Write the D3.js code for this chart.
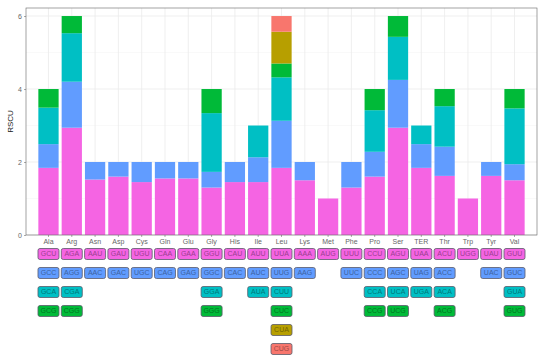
<!DOCTYPE html>
<html>
  <head>
    <meta charset="utf-8">
    <title>RSCU</title>
    <style media="screen">
      body { margin: 0; background: white; }
      text { font-family: "Liberation Sans", Arial, sans-serif; }
      .axis text { fill: #666; font-size: 7px; }
      .axis line { stroke: #555; stroke-width: 0.5; }
      .axis path { display: none; }
      .codon text { font-size: 7px; text-anchor: middle; }
    </style>
    <script src="https://d3js.org/d3.v7.min.js"></script>
  </head>
  <body>
    <script type="text/javascript">

      const aminoAcids = ["Ala", "Arg", "Asn", "Asp", "Cys", "Gln", "Glu", "Gly", "His", "Ile", "Leu",
        "Lys", "Met", "Phe", "Pro", "Ser", "TER", "Thr", "Trp", "Tyr", "Val"];

      const codons = [
        ["GCU", "GCC", "GCA", "GCG"],
        ["AGA", "AGG", "CGA", "CGG"],
        ["AAU", "AAC"],
        ["GAU", "GAC"],
        ["UGU", "UGC"],
        ["CAA", "CAG"],
        ["GAA", "GAG"],
        ["GGU", "GGC", "GGA", "GGG"],
        ["CAU", "CAC"],
        ["AUU", "AUC", "AUA"],
        ["UUA", "UUG", "CUU", "CUC", "CUA", "CUG"],
        ["AAA", "AAG"],
        ["AUG"],
        ["UUU", "UUC"],
        ["CCU", "CCC", "CCA", "CCG"],
        ["AGU", "AGC", "UCA", "UCG"],
        ["UAA", "UAG", "UGA"],
        ["ACU", "ACC", "ACA", "ACG"],
        ["UGG"],
        ["UAU", "UAC"],
        ["GUU", "GUC", "GUA", "GUG"]
      ];

      const rscu = [
        [1.84, 0.65, 1.00, 0.51],
        [2.94, 1.26, 1.33, 0.47],
        [1.52, 0.48],
        [1.60, 0.40],
        [1.45, 0.55],
        [1.55, 0.45],
        [1.55, 0.45],
        [1.30, 0.43, 1.61, 0.66],
        [1.45, 0.55],
        [1.45, 0.68, 0.87],
        [1.84, 1.29, 1.19, 0.38, 0.87, 0.43],
        [1.50, 0.50],
        [1.00],
        [1.30, 0.70],
        [1.60, 0.68, 1.14, 0.58],
        [2.94, 1.31, 1.18, 0.57],
        [1.84, 0.65, 0.51],
        [1.62, 0.80, 1.11, 0.47],
        [1.00],
        [1.62, 0.38],
        [1.50, 0.44, 1.53, 0.53]
      ];

      const yTicks = [0, 2, 4, 6];

      // codon position in its amino acid -> colour (ggplot hue order, reversed)
      const colours = ["#F564E3", "#619CFF", "#00BFC4", "#00BA38", "#B79F00", "#F8766D"];

      const width = 550, height = 362;
      const margin = { top: 8, right: 13, left: 26, bottom: 127 };
      const panelBottom = height - margin.bottom;

      const svg = d3.select('body')
        .append('svg')
          .attr('width', width)
          .attr('height', height);

      const x = d3.scaleBand()
        .domain(aminoAcids)
        .range([margin.left, width - margin.right])
        .paddingInner(0.13)
        .paddingOuter(0.53);

      const y = d3.scaleLinear()
        .domain([0, 6.22])
        .range([panelBottom, margin.top]);

      // panel grid
      const grid = svg.append('g');
      grid.selectAll('line.minor')
        .data([1, 3, 5])
        .enter().append('line')
          .attr('x1', margin.left).attr('x2', width - margin.right)
          .attr('y1', d => y(d)).attr('y2', d => y(d))
          .attr('stroke', '#f2f2f2').attr('stroke-width', 0.5);
      grid.selectAll('line.major')
        .data(yTicks)
        .enter().append('line')
          .attr('x1', margin.left).attr('x2', width - margin.right)
          .attr('y1', d => y(d)).attr('y2', d => y(d))
          .attr('stroke', '#ebebeb').attr('stroke-width', 0.8);
      grid.selectAll('line.vert')
        .data(aminoAcids)
        .enter().append('line')
          .attr('x1', d => x(d) + x.bandwidth() / 2).attr('x2', d => x(d) + x.bandwidth() / 2)
          .attr('y1', margin.top).attr('y2', panelBottom)
          .attr('stroke', '#ebebeb').attr('stroke-width', 0.8);

      // stacked bars
      const segments = [];
      aminoAcids.forEach((aa, i) => {
        let base = 0;
        rscu[i].forEach((v, j) => {
          segments.push({ aa: aa, j: j, y0: base, y1: base + v });
          base += v;
        });
      });

      svg.append('g')
        .selectAll('rect')
        .data(segments)
        .enter().append('rect')
          .attr('x', d => x(d.aa))
          .attr('width', x.bandwidth())
          .attr('y', d => y(d.y1))
          .attr('height', d => y(d.y0) - y(d.y1))
          .attr('fill', d => colours[d.j]);

      // panel border
      svg.append('rect')
        .attr('x', margin.left).attr('y', margin.top)
        .attr('width', width - margin.right - margin.left)
        .attr('height', panelBottom - margin.top)
        .attr('fill', 'none').attr('stroke', '#666').attr('stroke-width', 0.6);

      svg.append('g')
        .attr('class', 'axis')
        .attr('transform', `translate(${margin.left}, 0)`)
        .call(d3.axisLeft(y).tickValues(yTicks).tickFormat(d3.format('d')).tickSize(2).tickPadding(2));

      svg.append('g')
        .attr('class', 'axis')
        .attr('transform', `translate(0, ${panelBottom})`)
        .call(d3.axisBottom(x).tickSize(2).tickPadding(2));

      svg.append('text')
        .attr('transform', `translate(13, ${(margin.top + panelBottom) / 2}) rotate(-90)`)
        .attr('text-anchor', 'middle')
        .attr('fill', '#1a1a1a')
        .attr('font-size', 8)
        .text('RSCU');

      // codon labels under the axis
      const labels = [];
      aminoAcids.forEach((aa, i) => {
        codons[i].forEach((c, j) => labels.push({ aa: aa, j: j, codon: c }));
      });

      const rowY = j => 254 + j * 19;
      const boxW = 21, boxH = 11;

      const lab = svg.append('g')
        .selectAll('g')
        .data(labels)
        .enter().append('g')
          .attr('class', 'codon')
          .attr('transform', d => `translate(${x(d.aa) + x.bandwidth() / 2}, ${rowY(d.j)})`);

      lab.append('rect')
        .attr('x', -boxW / 2).attr('y', -boxH / 2)
        .attr('width', boxW).attr('height', boxH)
        .attr('rx', 2).attr('ry', 2)
        .attr('fill', d => colours[d.j])
        .attr('stroke', '#5a5a6a').attr('stroke-width', 0.8);

      lab.append('text')
        .attr('dy', '0.35em')
        .attr('fill', d => d3.color(colours[d.j]).darker(1.3))
        .text(d => d.codon);
    </script>
  </body>
</html>
